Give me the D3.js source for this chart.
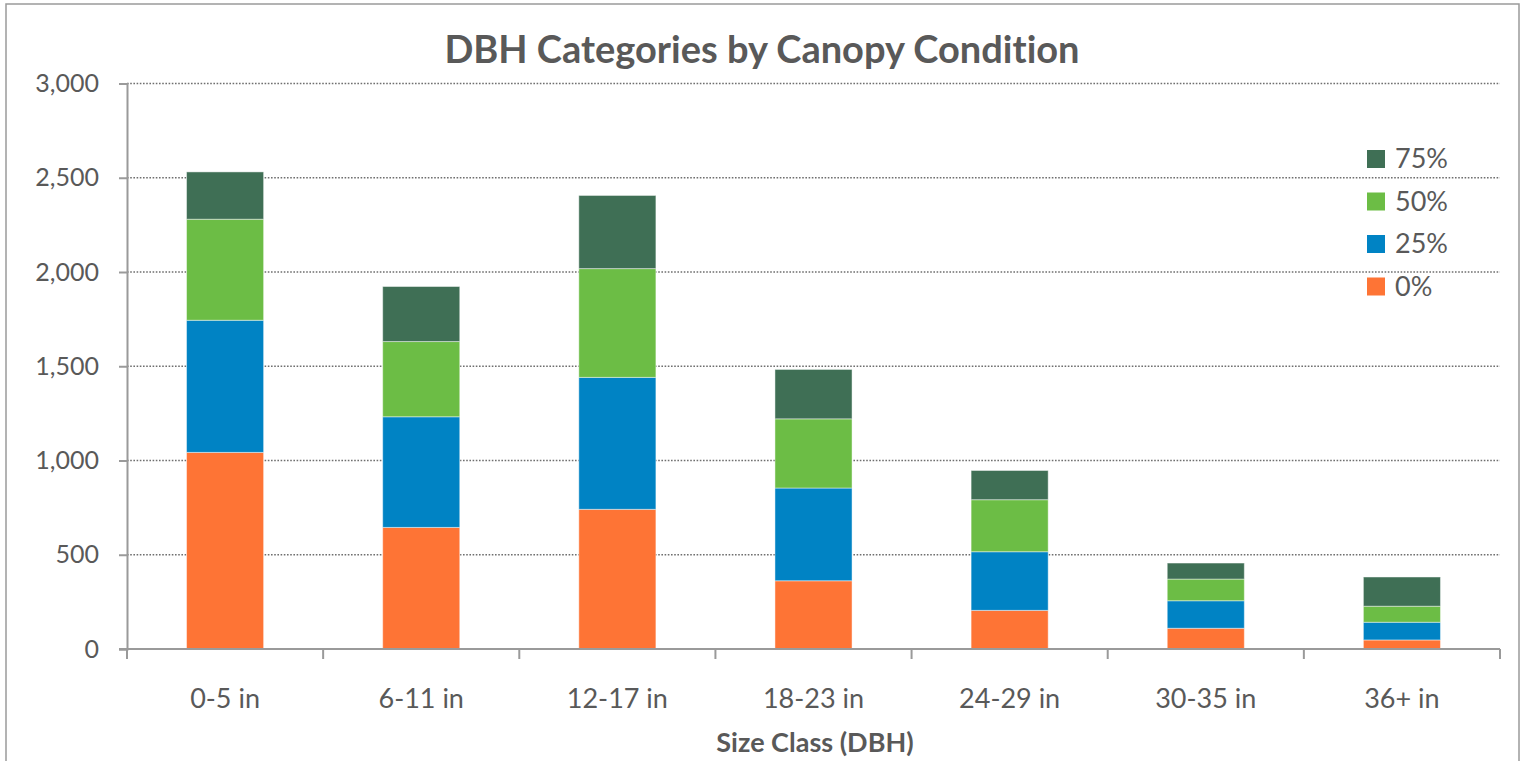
<!DOCTYPE html>
<html>
<head>
<meta charset="utf-8">
<script src="https://cdn.jsdelivr.net/npm/d3@7"></script>
<style>
  html, body { margin: 0; padding: 0; background: #fff; overflow: hidden; }
  text { font-family: Lato, "Open Sans", sans-serif; fill: #595959; font-variant-ligatures: none; }
</style>
</head>
<body>
<div id="chart"></div>
<script>
// data
var categories = ['0-5 in', '6-11 in', '12-17 in', '18-23 in', '24-29 in', '30-35 in', '36+ in'];
var seriesNames = ['0%', '25%', '50%', '75%'];
var pct0 = [1043, 645, 741, 362, 205, 110, 48];
var pct25 = [701, 587, 700, 492, 311, 146, 94];
var pct50 = [536, 399, 577, 367, 276, 115, 85];
var pct75 = [251, 292, 388, 262, 155, 85, 155];
var yTicks = [0, 500, 1000, 1500, 2000, 2500, 3000];
var colors = ['#fe7435', '#0083c4', '#6cbd45', '#3f6f55'];

var W = 1521, H = 761,
  plot = {left: 127, right: 1500, top: 83.5, bottom: 649};

var rows = categories.map(function (c, i) {
  return {cat: c, '0%': pct0[i], '25%': pct25[i], '50%': pct50[i], '75%': pct75[i]};
});
var stacked = d3.stack().keys(seriesNames)(rows);

var x = d3.scaleBand()
  .domain(categories)
  .range([plot.left, plot.right])
  .paddingInner(0.607)
  .paddingOuter(0.3035);
var y = d3.scaleLinear()
  .domain([0, 3000])
  .range([plot.bottom, plot.top]);

var svg = d3.select('#chart').append('svg')
  .attr('width', W)
  .attr('height', H);

// outer frame
svg.append('rect')
  .attr('x', 6).attr('y', 4)
  .attr('width', 1513).attr('height', 800)
  .attr('fill', '#fff')
  .attr('stroke', '#9a9a9a')
  .attr('stroke-width', 1.5);

// gridlines
svg.append('g').selectAll('line')
  .data(yTicks.filter(function (d) { return d > 0; }))
  .enter().append('line')
  .attr('x1', plot.left).attr('x2', plot.right)
  .attr('y1', function (d) { return y(d); })
  .attr('y2', function (d) { return y(d); })
  .attr('stroke', '#6f6f6f')
  .attr('stroke-width', 1.6)
  .attr('stroke-dasharray', '1.6,1.6');

// bars
svg.append('g').selectAll('g')
  .data(stacked)
  .enter().append('g')
  .attr('fill', function (d, i) { return colors[i]; })
  .selectAll('rect')
  .data(function (d) { return d; })
  .enter().append('rect')
  .attr('x', function (d) { return x(d.data.cat); })
  .attr('width', x.bandwidth())
  .attr('y', function (d) { return y(d[1]); })
  .attr('height', function (d) { return y(d[0]) - y(d[1]); })
  .attr('stroke', 'rgba(255,255,255,0.45)')
  .attr('stroke-width', 1);

// y axis
var yAxis = svg.append('g')
  .attr('transform', 'translate(' + plot.left + ',0)')
  .call(d3.axisLeft(y).tickValues(yTicks).tickSize(8).tickPadding(20)
    .tickFormat(d3.format(',')));
yAxis.selectAll('text').style('font-size', '25px').attr('fill', '#595959');

// x axis, ticks between categories
var xAxis = svg.append('g')
  .attr('transform', 'translate(0,' + plot.bottom + ')');
xAxis.append('g').selectAll('line')
  .data(d3.range(categories.length + 1))
  .enter().append('line')
  .attr('x1', function (i) { return plot.left + i * x.step(); })
  .attr('x2', function (i) { return plot.left + i * x.step(); })
  .attr('y1', 0).attr('y2', 10)
  .attr('stroke', '#9a9a9a').attr('stroke-width', 2);
xAxis.selectAll('.cat')
  .data(categories)
  .enter().append('text')
  .attr('class', 'cat')
  .attr('x', function (d) { return x(d) + x.bandwidth() / 2; })
  .attr('y', 59)
  .attr('text-anchor', 'middle')
  .style('font-size', '27px')
  .text(function (d) { return d; });

svg.selectAll('.domain').attr('stroke', '#9a9a9a').attr('stroke-width', 2);
yAxis.selectAll('.tick line').attr('stroke', '#9a9a9a').attr('stroke-width', 2);
svg.append('line')
  .attr('x1', plot.left - 8).attr('x2', plot.right)
  .attr('y1', plot.bottom).attr('y2', plot.bottom)
  .attr('stroke', '#9a9a9a').attr('stroke-width', 2);

// titles
svg.append('text')
  .attr('x', 762).attr('y', 63)
  .attr('text-anchor', 'middle')
  .style('font-size', '38px')
  .style('font-weight', 'bold')
  .text('DBH Categories by Canopy Condition');
svg.append('text')
  .attr('x', 815).attr('y', 752)
  .attr('text-anchor', 'middle')
  .style('font-size', '27px')
  .style('font-weight', 'bold')
  .text('Size Class (DBH)');

// legend, top series first
var legend = svg.append('g').selectAll('g')
  .data(seriesNames.slice().reverse())
  .enter().append('g')
  .attr('transform', function (d, i) {
    return 'translate(1367,' + (159 + i * 42.5) + ')';
  });
legend.append('rect')
  .attr('x', 0).attr('y', -9)
  .attr('width', 18).attr('height', 18)
  .attr('fill', function (d) { return colors[seriesNames.indexOf(d)]; });
legend.append('text')
  .attr('x', 28).attr('y', 9)
  .style('font-size', '27px')
  .text(function (d) { return d; });
</script>
</body>
</html>
